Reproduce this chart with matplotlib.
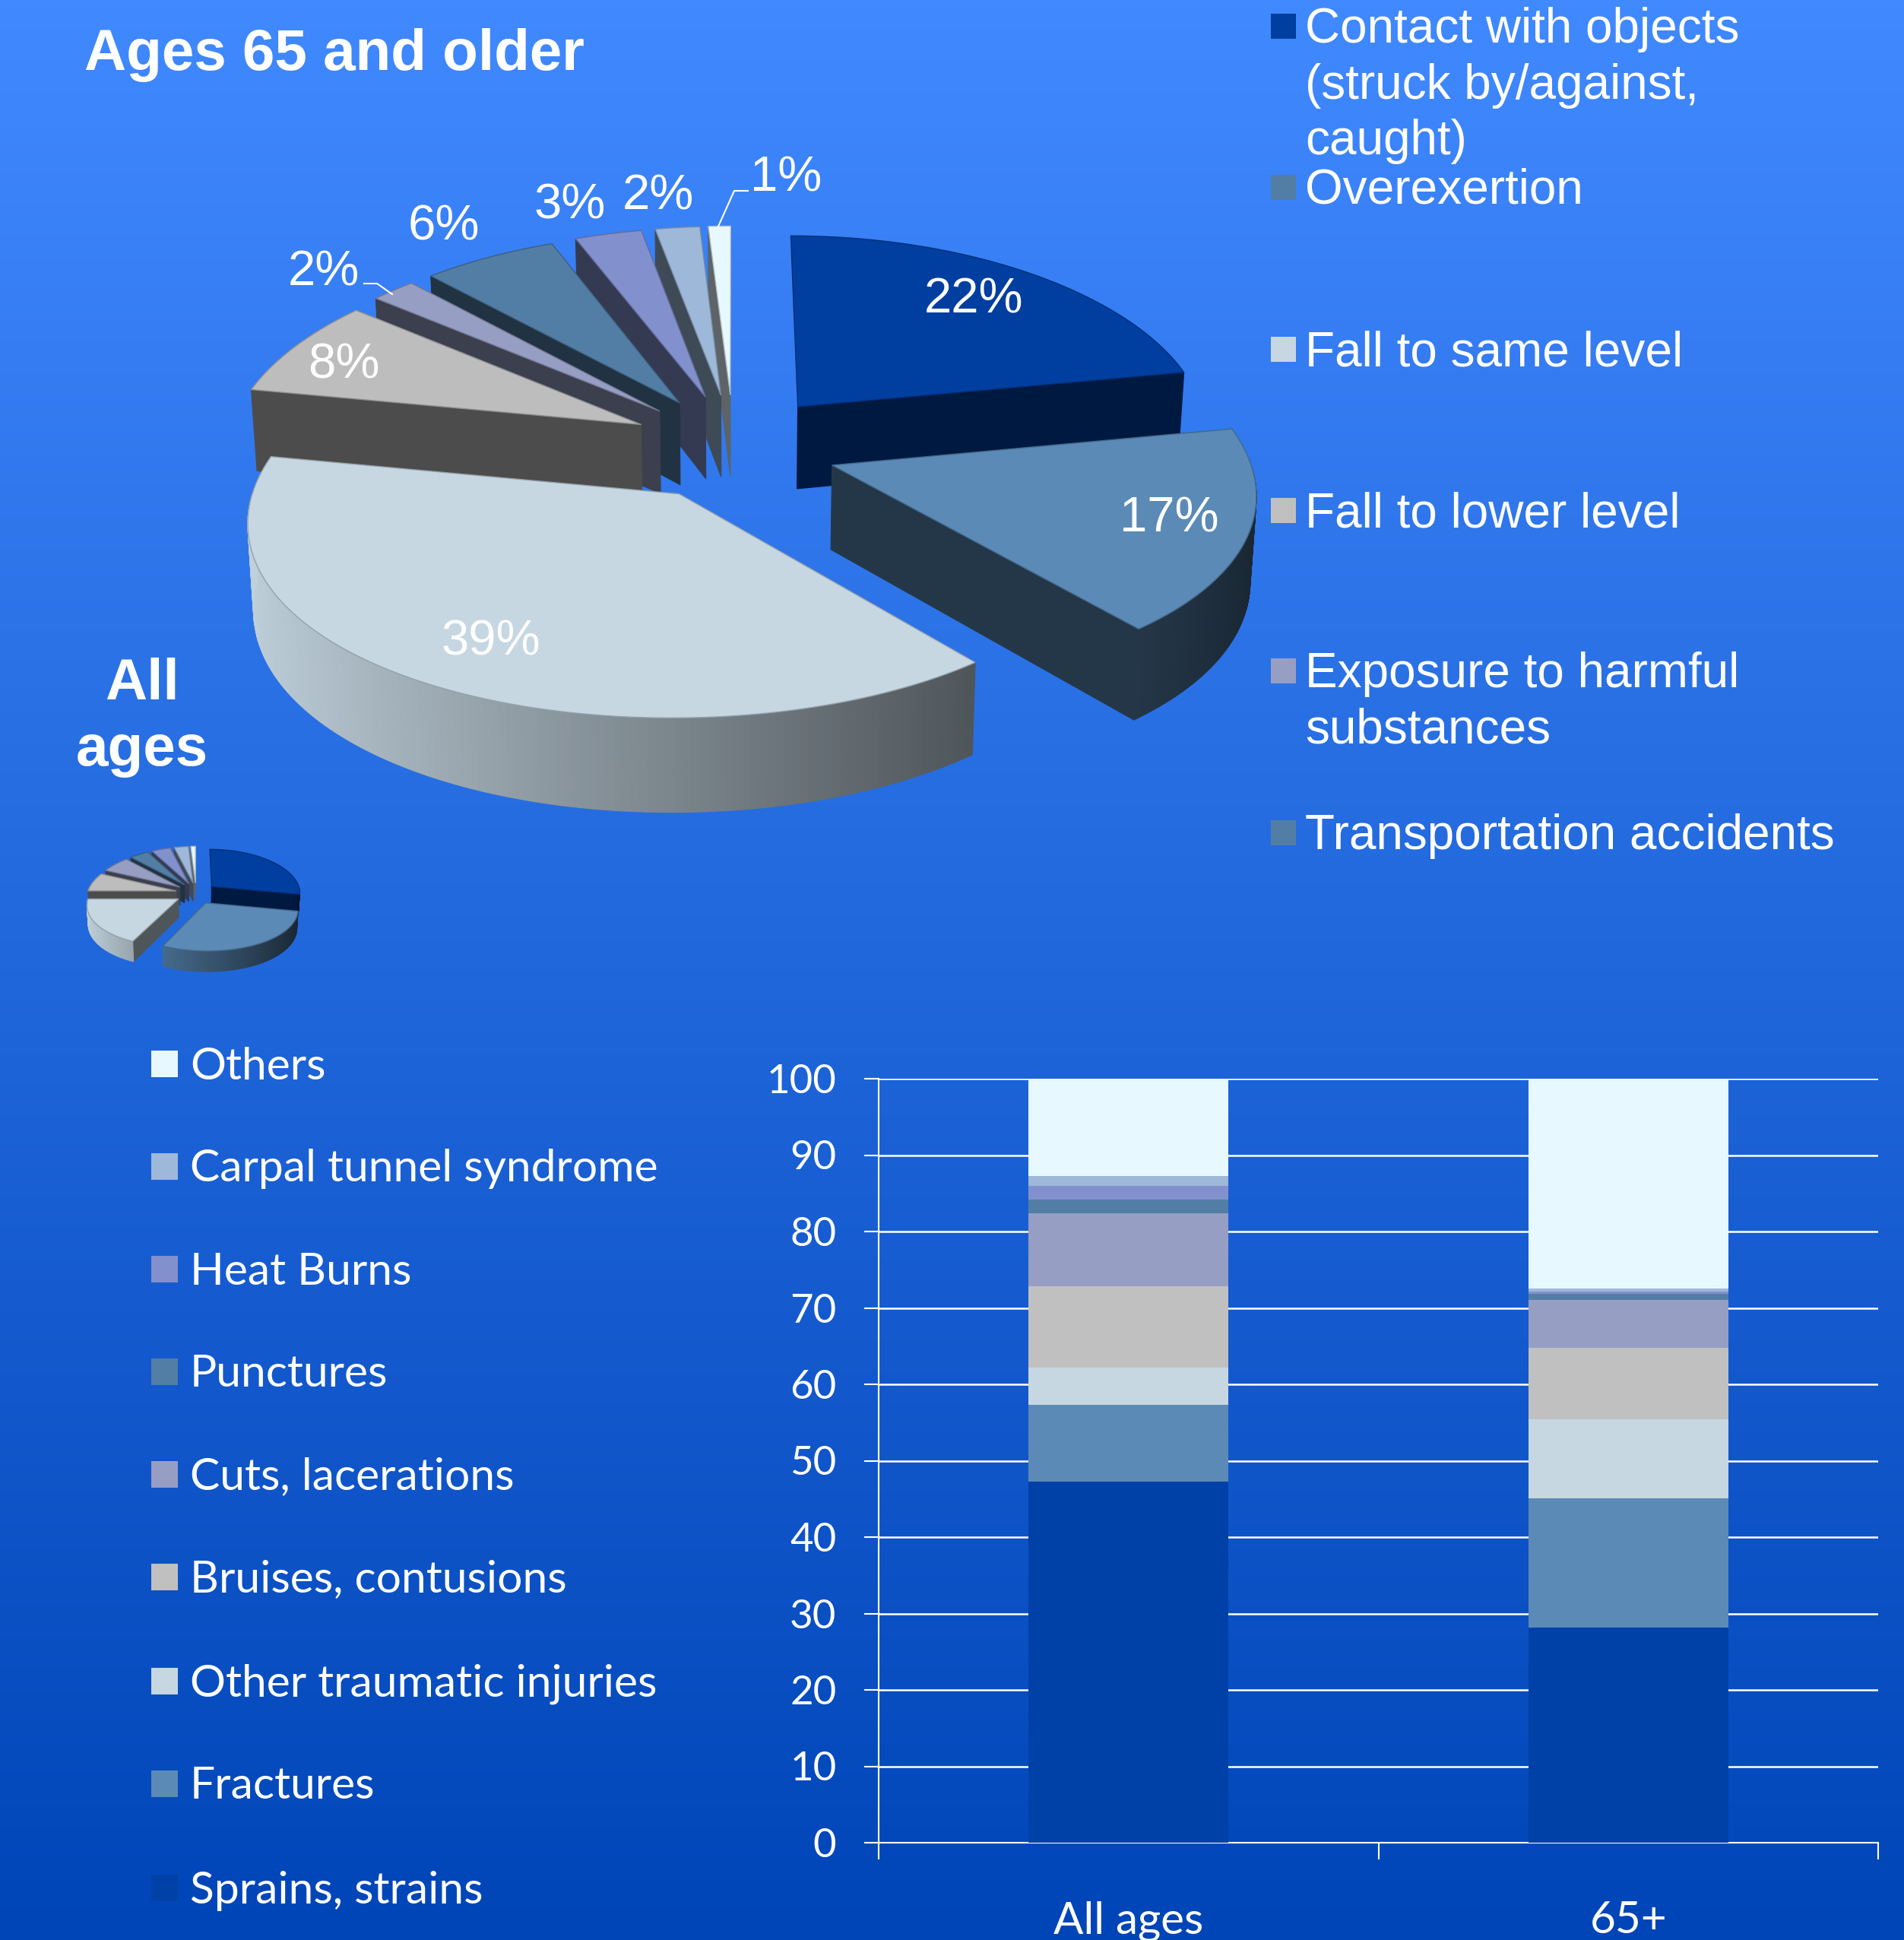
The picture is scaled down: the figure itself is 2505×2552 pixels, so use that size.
import numpy as np
import matplotlib
matplotlib.use('Agg')
import matplotlib.pyplot as plt
from matplotlib.patches import Polygon, Rectangle

W, H = 2505, 2552

# pie shares, clockwise from 12 o'clock
pie_65 = [22, 17, 39, 8, 2, 6, 3, 2, 1]
pie_all = [28, 29, 18, 7, 6, 4, 4, 3, 1]
pie_labels = ['22%', '17%', '39%', '8%', '2%', '6%', '3%', '2%', '1%']
pie_colors = ['#003F9F', '#5B8AB6', '#C6D7E2', '#BDBDBD', '#969EC3',
              '#527EA6', '#8290CE', '#9DB8D9', '#E8F8FF']

top_legend = ['Contact with objects\n(struck by/against,\ncaught)', 'Overexertion',
              'Fall to same level', 'Fall to lower level',
              'Exposure to harmful\nsubstances', 'Transportation accidents']
top_legend_colors = ['#003F9F', '#527EA6', '#C6D7E2', '#C0C0C0', '#969EC3', '#527EA6']

# stacked bars, bottom to top
bar_names = ['All ages', '65+']
injuries = ['Sprains, strains', 'Fractures', 'Other traumatic injuries',
            'Bruises, contusions', 'Cuts, lacerations', 'Punctures',
            'Heat Burns', 'Carpal tunnel syndrome', 'Others']
bar_all = [47.3, 10.0, 4.9, 10.6, 9.6, 1.8, 1.8, 1.3, 12.7]
bar_65 = [28.2, 16.9, 10.3, 9.4, 6.2, 0.8, 0.3, 0.4, 27.5]
bar_colors = ['#0041A8', '#5B8AB6', '#C6D7E2', '#C0C0C0', '#969EC3',
              '#527EA6', '#8290CE', '#9DB8D9', '#E8F8FF']


def shade(color, f):
    return tuple(np.array(matplotlib.colors.to_rgb(color)) * f)


# wedge drawn by hand, matplotlib has no 3d exploded pie
def draw_pie(ax, values, cx, cy, rx, ry, depth, explode, persp=0.093, persp_x=0.125):
    def project(X, Y, drop=0.0):
        s = 1 / (1 + persp * Y)
        sx = 1 / (1 + persp_x * Y)
        # walls lean inwards a little towards the bottom
        px = cx + rx * X * sx * (1 - 0.012 * drop)
        return np.column_stack([px, cy - ry * Y * s + depth * s * drop])

    edges = np.radians(np.cumsum([0] + list(values)) * 3.6)
    order = sorted(range(len(values)), key=lambda i: -np.cos((edges[i] + edges[i + 1]) / 2))
    for i in order:
        a0, a1 = edges[i], edges[i + 1]
        mid = (a0 + a1) / 2
        ox, oy = explode * np.sin(mid), 1.1 * explode * np.cos(mid)
        t = np.linspace(a0, a1, max(6, int(np.degrees(a1 - a0))))
        col = pie_colors[i]
        X = ox + np.sin(t)
        Y = oy + np.cos(t)

        # cut faces that look towards the viewer
        for a, test in ((a0, -np.sin(a0)), (a1, np.sin(a1))):
            if test > 0:
                fx = np.array([ox, ox + np.sin(a)])
                fy = np.array([oy, oy + np.cos(a)])
                top = project(fx, fy)
                low = project(fx, fy, 1.0)
                face = shade(col, 0.4)
                ax.add_patch(Polygon(np.vstack([top, low[::-1]]), fc=face, ec=face, lw=0.8))

        # outer wall, shaded piece by piece
        for k in range(len(t) - 1):
            if np.cos((t[k] + t[k + 1]) / 2) < 0:
                f = 0.62 - 0.35 * np.sin((t[k] + t[k + 1]) / 2)
                fx, fy = X[k:k + 2], Y[k:k + 2]
                quad = np.vstack([project(fx, fy), project(fx, fy, 1.0)[::-1]])
                ax.add_patch(Polygon(quad, fc=shade(col, f), ec=shade(col, f), lw=0.8))

        top = project(np.r_[ox, X], np.r_[oy, Y])
        ax.add_patch(Polygon(top, fc=col, ec=shade(col, 0.75), lw=1.0))


fig = plt.figure(figsize=(W / 100, H / 100), dpi=100)

# background gradient and pixel space for everything but the bars
bg = fig.add_axes([0, 0, 1, 1])
grad = np.linspace(0, 1, 256).reshape(-1, 1, 1)
img = (1 - grad) * np.array([65, 137, 255]) + grad * np.array([0, 69, 184])
bg.imshow(img.astype(np.uint8), extent=[0, W, H, 0], aspect='auto', zorder=0)
bg.set_xlim(0, W)
bg.set_ylim(H, 0)
bg.axis('off')

draw_pie(bg, pie_65, 965, 588, 545, 255, 110, 0.25)
draw_pie(bg, pie_all, 258, 1175, 117, 55, 24, 0.23)

sans = ['Liberation Sans', 'DejaVu Sans']
bg.text(111, 72, 'Ages 65 and older', color='white', fontsize=55, fontweight='bold',
        family=sans, va='center')
bg.text(187, 944, 'All\nages', color='white', fontsize=55, fontweight='bold',
        family=sans, ha='center', va='center', linespacing=1.3)

label_x = [1281, 1538, 646, 452, 426, 584, 750, 866, 1034]
label_y = [395, 682, 845, 480, 358, 298, 270, 259, 234]
for txt, x, y in zip(pie_labels, label_x, label_y):
    bg.text(x, y, txt, color='white', fontsize=47, family=sans, ha='center', va='center')
bg.plot([984, 966, 944], [251, 251, 300], color='white', lw=1.5)
bg.plot([479, 496, 516], [373, 373, 387], color='white', lw=1.5)

# top legend
top_y = [34, 246, 459, 671, 882, 1095]
for txt, col, y in zip(top_legend, top_legend_colors, top_y):
    bg.add_patch(Rectangle((1672, y - 16), 33, 33, fc=col, ec='none'))
    bg.text(1717, y - 25, txt, color='white', fontsize=46, family=sans, va='top', linespacing=1.29)

# bottom legend, top entry is the last series
low_y = [1400, 1535, 1670, 1805, 1940, 2075, 2212, 2347, 2484]
for txt, col, y in zip(injuries[::-1], bar_colors[::-1], low_y):
    bg.add_patch(Rectangle((199, y - 18), 35, 35, fc=col, ec='none'))
    bg.text(250, y + 3, txt, color='white', fontsize=42.3, family=['Lato', 'DejaVu Sans'], va='center')

# stacked bars
ax = fig.add_axes([1156 / W, 1 - 2424 / H, 1315 / W, 1005 / H])
ax.patch.set_alpha(0)
pos = np.arange(len(bar_names))
base = np.zeros(2)
for name, a, b, col in zip(injuries, bar_all, bar_65, bar_colors):
    ax.bar(pos, [a, b], 0.4, bottom=base, color=col, label=name, zorder=3)
    base += np.array([a, b])
ax.set_xlim(-0.5, 1.5)
ax.set_ylim(0, 100)
ax.set_yticks(np.arange(0, 101, 10))
ax.grid(axis='y', color='white', lw=1.8, zorder=1)
ax.set_axisbelow(True)
ax.set_xticks([-0.5, 0.5, 1.5], labels=['', '', ''])
ax.set_xticks(pos, labels=bar_names, minor=True)
for s in ('top', 'right'):
    ax.spines[s].set_visible(False)
for s in ('left', 'bottom'):
    ax.spines[s].set_color('white')
    ax.spines[s].set_linewidth(1.5)
ax.tick_params(axis='x', which='major', length=16, width=1.5, color='white')
ax.tick_params(axis='x', which='minor', length=0, pad=55, labelsize=42, labelcolor='white')
ax.tick_params(axis='y', length=14, width=1.5, color='white', pad=26, labelsize=38, labelcolor='white')
for t in ax.get_xticklabels(minor=True) + ax.get_yticklabels():
    t.set_family(['Lato', 'DejaVu Sans'])

fig.savefig('out.png', dpi=100)
